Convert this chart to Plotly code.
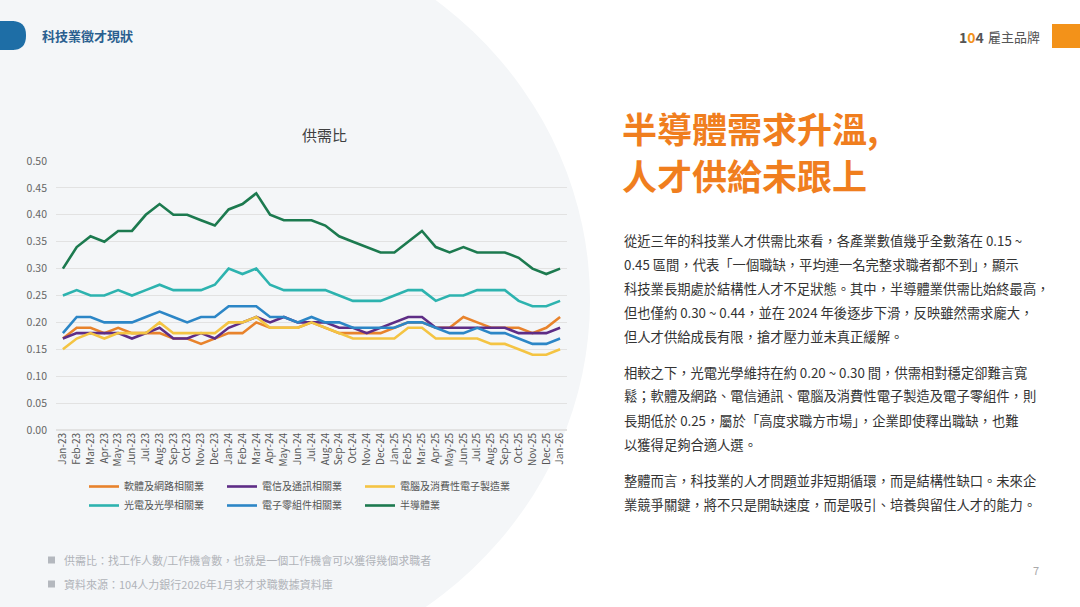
import plotly.graph_objects as go

W, H = 1080, 607

# x axis labels (monthly, Jan-23 .. Jan-26)
months = ["Jan-23", "Feb-23", "Mar-23", "Apr-23", "May-23", "Jun-23", "Jul-23", "Aug-23",
          "Sep-23", "Oct-23", "Nov-23", "Dec-23", "Jan-24", "Feb-24", "Mar-24", "Apr-24",
          "May-24", "Jun-24", "Jul-24", "Aug-24", "Sep-24", "Oct-24", "Nov-24", "Dec-24",
          "Jan-25", "Feb-25", "Mar-25", "Apr-25", "May-25", "Jun-25", "Jul-25", "Aug-25",
          "Sep-25", "Oct-25", "Nov-25", "Dec-25", "Jan-26"]

# 供需比 per industry
software = [0.17, 0.19, 0.19, 0.18, 0.19, 0.18, 0.18, 0.18, 0.17, 0.17, 0.16, 0.17,
            0.18, 0.18, 0.20, 0.19, 0.19, 0.19, 0.20, 0.19, 0.18, 0.18, 0.18, 0.18,
            0.19, 0.20, 0.20, 0.19, 0.19, 0.21, 0.20, 0.19, 0.19, 0.19, 0.18, 0.19,
            0.21]
telecom = [0.17, 0.18, 0.18, 0.18, 0.18, 0.17, 0.18, 0.19, 0.17, 0.17, 0.18, 0.17,
           0.19, 0.20, 0.21, 0.20, 0.21, 0.20, 0.20, 0.20, 0.19, 0.19, 0.18, 0.19,
           0.20, 0.21, 0.21, 0.19, 0.19, 0.19, 0.19, 0.19, 0.19, 0.18, 0.18, 0.18,
           0.19]
computer = [0.15, 0.17, 0.18, 0.17, 0.18, 0.18, 0.18, 0.20, 0.18, 0.18, 0.18, 0.18,
            0.20, 0.20, 0.21, 0.19, 0.19, 0.19, 0.20, 0.19, 0.18, 0.17, 0.17, 0.17,
            0.17, 0.19, 0.19, 0.17, 0.17, 0.17, 0.17, 0.16, 0.16, 0.15, 0.14, 0.14,
            0.15]
optical = [0.25, 0.26, 0.25, 0.25, 0.26, 0.25, 0.26, 0.27, 0.26, 0.26, 0.26, 0.27,
           0.30, 0.29, 0.30, 0.27, 0.26, 0.26, 0.26, 0.26, 0.25, 0.24, 0.24, 0.24,
           0.25, 0.26, 0.26, 0.24, 0.25, 0.25, 0.26, 0.26, 0.26, 0.24, 0.23, 0.23,
           0.24]
components = [0.18, 0.21, 0.21, 0.20, 0.20, 0.20, 0.21, 0.22, 0.21, 0.20, 0.21, 0.21,
              0.23, 0.23, 0.23, 0.21, 0.21, 0.20, 0.21, 0.20, 0.20, 0.19, 0.19, 0.19,
              0.19, 0.20, 0.20, 0.19, 0.18, 0.18, 0.19, 0.18, 0.18, 0.17, 0.16, 0.16,
              0.17]
semicon = [0.30, 0.34, 0.36, 0.35, 0.37, 0.37, 0.40, 0.42, 0.40, 0.40, 0.39, 0.38,
           0.41, 0.42, 0.44, 0.40, 0.39, 0.39, 0.39, 0.38, 0.36, 0.35, 0.34, 0.33,
           0.33, 0.35, 0.37, 0.34, 0.33, 0.34, 0.33, 0.33, 0.33, 0.32, 0.30, 0.29,
           0.30]

names = ["軟體及網路相關業", "電信及通訊相關業", "電腦及消費性電子製造業",
         "光電及光學相關業", "電子零組件相關業", "半導體業"]
series = [software, telecom, computer, optical, components, semicon]
colors = ["#E8832C", "#5E2D86", "#F4C443", "#2DB3AF", "#2C86C6", "#1C7A4F"]

FONT = "Noto Sans CJK TC"


def px(x):
    return x / W


def py(y):
    return 1 - y / H


# legend is laid out as three columns, one small legend per column
legend_ids = ["legend", "legend2", "legend3"]

fig = go.Figure()
for i in range(len(series)):
    fig.add_trace(go.Scatter(x=months, y=series[i], name=names[i], mode="lines",
                             line=dict(color=colors[i], width=2.6),
                             legend=legend_ids[i % 3]))

# big light grey blob behind the chart
shapes = [dict(type="circle", xref="paper", yref="paper", layer="below",
               x0=px(-210), x1=px(590), y0=py(-80), y1=py(680),
               fillcolor="#F4F6F8", line=dict(width=0))]
# blue tab top-left
shapes.append(dict(type="path", xref="paper", yref="paper",
                   path="M %f %f L %f %f Q %f %f %f %f L %f %f Q %f %f %f %f Z" % (
                       px(0), py(21), px(12), py(21), px(26), py(21), px(26), py(35),
                       px(26), py(36), px(26), py(50), px(12), py(50)),
                   fillcolor="#1E6EA6", line=dict(width=0)))
shapes.append(dict(type="path", xref="paper", yref="paper",
                   path="M %f %f L %f %f L %f %f L %f %f Z" % (
                       px(0), py(21), px(14), py(21), px(14), py(50), px(0), py(50)),
                   fillcolor="#1E6EA6", line=dict(width=0)))
# orange block top-right
shapes.append(dict(type="rect", xref="paper", yref="paper",
                   x0=px(1052), x1=px(1080), y0=py(24), y1=py(48),
                   fillcolor="#F39219", line=dict(width=0)))
# footnote squares
for yy in [560, 584]:
    shapes.append(dict(type="rect", xref="paper", yref="paper",
                       x0=px(48), x1=px(55), y0=py(yy - 3.5), y1=py(yy + 3.5),
                       fillcolor="#B4B8BE", line=dict(width=0)))

ann = []


def text(x, y, s, size, color, bold=False, anchor="left"):
    ann.append(dict(x=px(x), y=py(y), xref="paper", yref="paper", text=s,
                    showarrow=False, xanchor=anchor, yanchor="middle",
                    font=dict(family=FONT, size=size, color=color,
                              weight="bold" if bold else "normal")))


text(40, 36, "科技業徵才現狀", 13, "#2A5F8F", bold=True)
text(957, 37, "<b>1</b><span style='color:#F39219'><b>0</b></span><b>4</b>", 14, "#555555")
text(986, 37, "雇主品牌", 13, "#555555")
text(300, 134, "供需比", 15, "#404040")

# headline
text(620, 128, "半導體需求升溫,", 35, "#F07E1E", bold=True)
text(620, 175, "人才供給未跟上", 35, "#F07E1E", bold=True)

body = ["從近三年的科技業人才供需比來看，各產業數值幾乎全數落在 0.15 ~",
        "0.45 區間，代表「一個職缺，平均連一名完整求職者都不到」，顯示",
        "科技業長期處於結構性人才不足狀態。其中，半導體業供需比始終最高，",
        "但也僅約 0.30 ~ 0.44，並在 2024 年後逐步下滑，反映雖然需求龐大，",
        "但人才供給成長有限，搶才壓力並未真正緩解。",
        "相較之下，光電光學維持在約 0.20 ~ 0.30 間，供需相對穩定卻難言寬",
        "鬆；軟體及網路、電信通訊、電腦及消費性電子製造及電子零組件，則",
        "長期低於 0.25，屬於「高度求職方市場」，企業即使釋出職缺，也難",
        "以獲得足夠合適人選。",
        "整體而言，科技業的人才問題並非短期循環，而是結構性缺口。未來企",
        "業競爭關鍵，將不只是開缺速度，而是吸引、培養與留住人才的能力。"]
body_y = [240, 264, 288, 312, 336, 372, 396, 420, 444, 480, 504]
for s, yy in zip(body, body_y):
    text(622, yy, s, 13.3, "#333333")

text(1036, 570, "7", 11, "#AAAAAA", anchor="center")

text(62, 560, "供需比：找工作人數/工作機會數，也就是一個工作機會可以獲得幾個求職者", 11, "#B0B3B8")
text(62, 584, "資料來源：104人力銀行2026年1月求才求職數據資料庫", 11, "#B0B3B8")

legend_x = [84, 222, 360]
legends = {}
for lid, lx in zip(legend_ids, legend_x):
    legends[lid] = dict(orientation="v", x=px(lx), y=py(472), xanchor="left", yanchor="top",
                        itemwidth=30, tracegroupgap=0,
                        font=dict(size=10, color="#555555"), bgcolor="rgba(0,0,0,0)")

fig.update_layout(
    width=W, height=H,
    margin=dict(l=0, r=0, t=0, b=0),
    paper_bgcolor="white",
    plot_bgcolor="rgba(0,0,0,0)",
    font=dict(family=FONT),
    shapes=shapes,
    annotations=ann,
    xaxis=dict(domain=[px(56), px(567)], range=[-0.5, 36.5], type="category",
               tickangle=-90, tickfont=dict(size=10, color="#555555"),
               showgrid=False, showline=False, ticks="", automargin=False),
    yaxis=dict(domain=[py(430), py(161)], range=[0, 0.5], dtick=0.05, tickformat=".2f",
               tickfont=dict(size=10.5, color="#666666"), gridcolor="#E2E2E2",
               zeroline=True, zerolinecolor="#E2E2E2", showline=False,
               ticklabelstandoff=8, automargin=False),
    **legends,
)

# page body has a default 8px margin; drop it so the figure sits at the window corner
fig.write_html("out.html", config={"displayModeBar": False},
               post_script="document.body.style.margin='0';")
